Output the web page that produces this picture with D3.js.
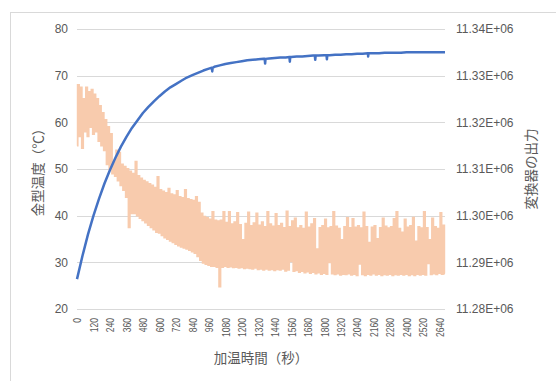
<!DOCTYPE html>
<html>
<head>
<meta charset="utf-8">
<script src="https://cdn.jsdelivr.net/npm/d3@7"></script>
<style>
  body { margin: 0; background: #fff; }
  svg text { font-family: "Liberation Sans", Arial, sans-serif; fill: #595959; }
  svg text.jp { font-family: "Noto Sans CJK JP", sans-serif; }
</style>
</head>
<body>
<svg id="chart" width="556" height="381"></svg>
<script>
// Heating time axis (seconds)
const timeTicks = [0, 120, 240, 360, 480, 600, 720, 840, 960, 1080, 1200, 1320,
  1440, 1560, 1680, 1800, 1920, 2040, 2160, 2280, 2400, 2520, 2640];
const timeEnd = 2680;

// Left axis: mould temperature (°C)
const tempTicks = [20, 30, 40, 50, 60, 70, 80];
// Right axis: converter output
const outputTicks = [11280000, 11290000, 11300000, 11310000, 11320000, 11330000, 11340000];

// Mould temperature, sampled every 40 s
const tempStep = 40;
const tempValues = [
  26.4, 31.4, 36.0, 40.0, 43.6, 46.9, 49.8, 52.4, 54.8, 56.9,
  58.8, 60.4, 62.0, 63.3, 64.5, 65.6, 66.6, 67.5, 68.2, 68.9,
  69.6, 70.1, 70.6, 71.1, 71.5, 71.9, 72.2, 72.5, 72.7, 72.9,
  73.1, 73.3, 73.4, 73.5, 73.6, 73.7, 73.8, 73.9, 73.9, 74.0,
  74.1, 74.1, 74.2, 74.3, 74.3, 74.4, 74.4, 74.5, 74.5, 74.6,
  74.6, 74.7, 74.7, 74.8, 74.8, 74.8, 74.9, 74.9, 74.9, 74.9,
  75.0, 75.0, 75.0, 75.0, 75.0, 75.0, 75.0, 75.0
];
// Short sensor drops on the temperature trace: [time, value]
const tempDips = [
  [982, 71.7], [985, 70.9], [988, 71.7],
  [1367, 73.6], [1370, 72.6], [1373, 73.6],
  [1547, 74.0], [1550, 73.0], [1553, 74.0],
  [1732, 74.3], [1735, 73.4], [1738, 74.3],
  [1817, 74.4], [1820, 73.5], [1823, 74.4],
  [2117, 74.8], [2120, 74.1], [2123, 74.8]
];

// Converter output, sampled every 10 s
const outputStep = 10;
const outputValues = [
  11315000, 11328000, 11317000, 11327500, 11314500, 11325000, 11318000, 11327500, 11317000, 11326500,
  11319000, 11327000, 11317500, 11326000, 11318000, 11325000, 11316000, 11323500, 11315000, 11322000,
  11314000, 11320500, 11311000, 11319000, 11310000, 11317500, 11309000, 11311500, 11308500, 11314000,
  11307500, 11313500, 11306500, 11311000, 11305500, 11310500, 11304000, 11310000, 11297500, 11309500,
  11300500, 11309000, 11300500, 11311600, 11300000, 11308500, 11299500, 11308000, 11299000, 11307500,
  11298500, 11307200, 11298000, 11306800, 11297500, 11306500, 11297000, 11306000, 11296500, 11308300,
  11296300, 11305500, 11295800, 11305200, 11295300, 11304900, 11295000, 11305800, 11294600, 11304600,
  11294300, 11304400, 11293900, 11305300, 11293600, 11304000, 11293300, 11303800, 11293100, 11305500,
  11292900, 11303600, 11292600, 11303400, 11292300, 11303200, 11292000, 11304000, 11291300, 11302800,
  11290500, 11300500, 11289900, 11299800, 11289600, 11299500, 11289400, 11299200, 11289200, 11300800,
  11289200, 11299000, 11289000, 11298800, 11284800, 11299000, 11289000, 11300800, 11289200, 11298500,
  11289000, 11300800, 11289100, 11298200, 11288900, 11298600, 11289000, 11300600, 11288800, 11298000,
  11288900, 11294800, 11288700, 11298300, 11288800, 11300700, 11288700, 11297800, 11288600, 11298400,
  11288800, 11300500, 11288500, 11297900, 11288600, 11298600, 11288400, 11297600, 11288600, 11300800,
  11288400, 11298200, 11288500, 11297700, 11288300, 11300400, 11288500, 11297800, 11288400, 11298300,
  11288600, 11297400, 11288200, 11300900, 11288400, 11297600, 11290200, 11298800, 11288100, 11299400,
  11288300, 11297300, 11287900, 11297800, 11288100, 11297200, 11287800, 11300700, 11288000, 11297500,
  11287700, 11298200, 11287900, 11299300, 11287600, 11292800, 11287800, 11297400, 11287500, 11297800,
  11287700, 11299200, 11287500, 11297300, 11290000, 11297600, 11287600, 11300800, 11287400, 11297700,
  11287600, 11297200, 11287300, 11294800, 11287500, 11297600, 11287400, 11299500, 11287600, 11297400,
  11287300, 11299300, 11287500, 11297500, 11287200, 11297800, 11289700, 11297300, 11287400, 11300700,
  11287200, 11297600, 11287500, 11294200, 11287300, 11297500, 11287600, 11297800, 11287300, 11295000,
  11287500, 11297400, 11287200, 11299400, 11287400, 11297700, 11287300, 11297300, 11287500, 11297600,
  11287200, 11299300, 11287400, 11300800, 11287300, 11297200, 11287500, 11296400, 11287300, 11299200,
  11287500, 11297500, 11287200, 11297800, 11287400, 11299600, 11287200, 11294500, 11287500, 11297600,
  11287300, 11297300, 11287500, 11300800, 11287300, 11297400, 11289800, 11294800, 11287400, 11299400,
  11287600, 11297600, 11287400, 11297200, 11287700, 11300600, 11287500, 11297900, 11287600
];

const svg = d3.select("#chart");
const plot = { left: 77, right: 445, top: 29, bottom: 309 };

const x = d3.scaleLinear().domain([0, timeEnd]).range([plot.left, plot.right]);
const yTemp = d3.scaleLinear().domain([20, 80]).range([plot.bottom, plot.top]);
const yOut = d3.scaleLinear().domain([11280000, 11340000]).range([plot.bottom, plot.top]);

// Chart frame
svg.append("rect")
  .attr("x", 10.5).attr("y", 12.5)
  .attr("width", 560).attr("height", 420)
  .attr("fill", "none").attr("stroke", "#d9d9d9").attr("stroke-width", 1);

// Horizontal gridlines
svg.append("g")
  .selectAll("line")
  .data(tempTicks)
  .join("line")
  .attr("x1", plot.left).attr("x2", plot.right)
  .attr("y1", d => Math.round(yTemp(d)) + 0.5)
  .attr("y2", d => Math.round(yTemp(d)) + 0.5)
  .attr("stroke", "#d9d9d9").attr("stroke-width", 1);

// Left axis labels
const leftAxis = svg.append("g")
  .attr("transform", `translate(${plot.left},0)`)
  .call(d3.axisLeft(yTemp).tickValues(tempTicks).tickSize(0).tickPadding(9));
leftAxis.select(".domain").remove();
leftAxis.selectAll("text").attr("font-size", 12);

// Right axis labels
const rightAxis = svg.append("g")
  .attr("transform", `translate(${plot.right},0)`)
  .call(d3.axisRight(yOut).tickValues(outputTicks).tickSize(0).tickPadding(11)
    .tickFormat(v => (v / 1e6).toFixed(2) + "E+06"));
rightAxis.select(".domain").remove();
rightAxis.selectAll("text").attr("font-size", 12);

// Bottom axis labels, rotated and slightly condensed
const bottomAxis = svg.append("g")
  .attr("transform", `translate(0,${plot.bottom})`)
  .call(d3.axisBottom(x).tickValues(timeTicks).tickSize(0).tickFormat(d3.format("d")));
bottomAxis.select(".domain").remove();
bottomAxis.selectAll("text")
  .attr("font-size", 11)
  .attr("transform", "rotate(-90) scale(0.78,1)")
  .attr("x", -11.5).attr("y", 0).attr("dy", "0.35em")
  .style("text-anchor", "end");
svg.selectAll(".tick text").attr("fill", "#595959");

// Converter output trace
const outputLine = d3.line()
  .curve(d3.curveStep)
  .x((d, i) => x(i * outputStep))
  .y(d => yOut(d));
svg.append("path")
  .datum(outputValues)
  .attr("fill", "none")
  .attr("stroke", "#F8CBAD")
  .attr("stroke-width", 1.8)
  .attr("d", outputLine);

// Mould temperature trace
const tempSeries = tempValues.map((v, i) => [i * tempStep, v])
  .concat(tempDips)
  .sort((a, b) => a[0] - b[0]);
const tempLine = d3.line()
  .x(d => x(d[0]))
  .y(d => yTemp(d[1]));
svg.append("path")
  .datum(tempSeries)
  .attr("fill", "none")
  .attr("stroke", "#4472C4")
  .attr("stroke-width", 2.5)
  .attr("stroke-linejoin", "round")
  .attr("d", tempLine);

// Axis titles
svg.append("text").attr("class", "jp")
  .attr("x", (plot.left + plot.right) / 2).attr("y", 357)
  .attr("text-anchor", "middle").attr("dominant-baseline", "central")
  .attr("font-size", 13.5)
  .text("加温時間（秒）");

svg.append("text").attr("class", "jp")
  .attr("transform", `translate(37,${(plot.top + plot.bottom) / 2}) rotate(-90)`)
  .attr("text-anchor", "middle").attr("dominant-baseline", "central")
  .attr("font-size", 13.5)
  .text("金型温度（℃）");

svg.append("text").attr("class", "jp")
  .attr("transform", `translate(530,${(plot.top + plot.bottom) / 2}) rotate(-90)`)
  .attr("text-anchor", "middle").attr("dominant-baseline", "central")
  .attr("font-size", 13.5)
  .text("変換器の出力");
</script>
</body>
</html>
